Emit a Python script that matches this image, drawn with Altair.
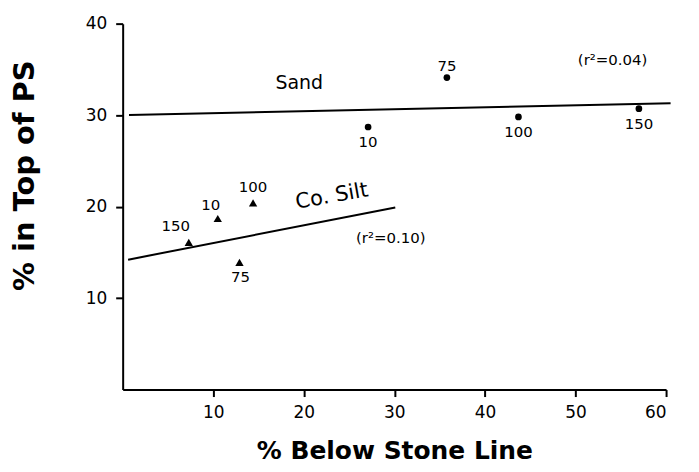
import altair as alt
import pandas as pd

# Sand series (circles)
sand_labels = ["10", "75", "100", "150"]
sand_x = [27.1, 35.8, 43.7, 57.0]
sand_y = [28.7, 34.1, 29.8, 30.7]

# Coarse silt series (triangles)
silt_labels = ["150", "10", "100", "75"]
silt_x = [7.3, 10.5, 14.4, 12.9]
silt_y = [16.1, 18.7, 20.4, 13.9]

# Regression lines (end points)
sand_fit_x = [0.7, 60.5]
sand_fit_y = [30.0, 31.3]
silt_fit_x = [0.6, 30.1]
silt_fit_y = [14.2, 19.9]

# Annotations
ann_text = ["Sand", "Co. Silt", "(r²=0.04)", "(r²=0.10)"]
ann_x = [19.5, 23.1, 54.1, 29.6]
ann_y = [33.5, 21.1, 36.0, 16.6]

x_ticks = [10, 20, 30, 40, 50, 60]
y_ticks = [10, 20, 30, 40]

FONT = "DejaVu Sans"

sand = pd.DataFrame({"x": sand_x, "y": sand_y, "label": sand_labels})
silt = pd.DataFrame({"x": silt_x, "y": silt_y, "label": silt_labels})
sand_fit = pd.DataFrame({"x": sand_fit_x, "y": sand_fit_y})
silt_fit = pd.DataFrame({"x": silt_fit_x, "y": silt_fit_y})
ann = pd.DataFrame({"x": ann_x, "y": ann_y, "text": ann_text})

xs = alt.Scale(domain=[0, 60], nice=False, zero=False)
ys = alt.Scale(domain=[0, 40], nice=False, zero=False)

X = alt.X("x:Q", scale=xs, axis=alt.Axis(
    values=x_ticks, title="% Below Stone Line", titleFontSize=25,
    titleFont=FONT, titleFontWeight="bold", titleY=61, titleBaseline="middle",
    labelPadding=8))
Y = alt.Y("y:Q", scale=ys, axis=alt.Axis(
    values=y_ticks, title="% in Top of PS", titleFontSize=29,
    titleFont=FONT, titleFontWeight="bold", titleAngle=270,
    titleX=-98, titleY=152, titleAlign="center", titleBaseline="middle",
    labelPadding=9))

base_sand = alt.Chart(sand)
base_silt = alt.Chart(silt)

lines = (
    alt.Chart(sand_fit).mark_line(color="black", strokeWidth=2).encode(x=X, y=Y)
    + alt.Chart(silt_fit).mark_line(color="black", strokeWidth=2).encode(x=X, y=Y)
)

pts = (
    base_sand.mark_point(shape="circle", filled=True, color="black", size=45, opacity=1)
    .encode(x=X, y=Y)
    + base_silt.mark_point(shape="triangle-up", filled=True, color="black", size=70, opacity=1)
    .encode(x=X, y=Y)
)


def lab(base, names, dx, dy):
    return base.transform_filter(
        alt.FieldOneOfPredicate(field="label", oneOf=names)
    ).mark_text(font=FONT, fontSize=15, color="black", dx=dx, dy=dy,
                baseline="middle", align="center").encode(x=X, y=Y, text="label:N")


labels = (
    lab(base_sand, ["10", "100", "150"], 0, 15)
    + lab(base_sand, ["75"], 0, -12)
    + lab(base_silt, ["150"], -13, -16)
    + lab(base_silt, ["10"], -7, -14)
    + lab(base_silt, ["100"], 0, -16)
    + lab(base_silt, ["75"], 1, 15)
)

ann_base = alt.Chart(ann)
anns = (
    ann_base.transform_filter(alt.datum.text == "Sand")
    .mark_text(font=FONT, fontSize=19, color="black", baseline="middle")
    .encode(x=X, y=Y, text="text:N")
    + ann_base.transform_filter(alt.datum.text == "Co. Silt")
    .mark_text(font=FONT, fontSize=21, color="black", baseline="middle", angle=350)
    .encode(x=X, y=Y, text="text:N")
    + ann_base.transform_filter((alt.datum.text != "Sand") & (alt.datum.text != "Co. Silt"))
    .mark_text(font=FONT, fontSize=15, color="black", baseline="middle")
    .encode(x=X, y=Y, text="text:N")
)

chart = (lines + pts + labels + anns).properties(
    width=545, height=367, autosize="none",
    padding={"left": 115, "top": 15, "right": 25, "bottom": 81},
).configure_view(stroke=None).configure_axis(
    grid=False, domainColor="black", domainWidth=2, tickColor="black",
    tickWidth=2, tickSize=7, labelColor="black", labelFont=FONT,
    labelFontSize=17, titleColor="black",
)

chart.save("out.html", embed_options={"renderer": "svg", "actions": False})
